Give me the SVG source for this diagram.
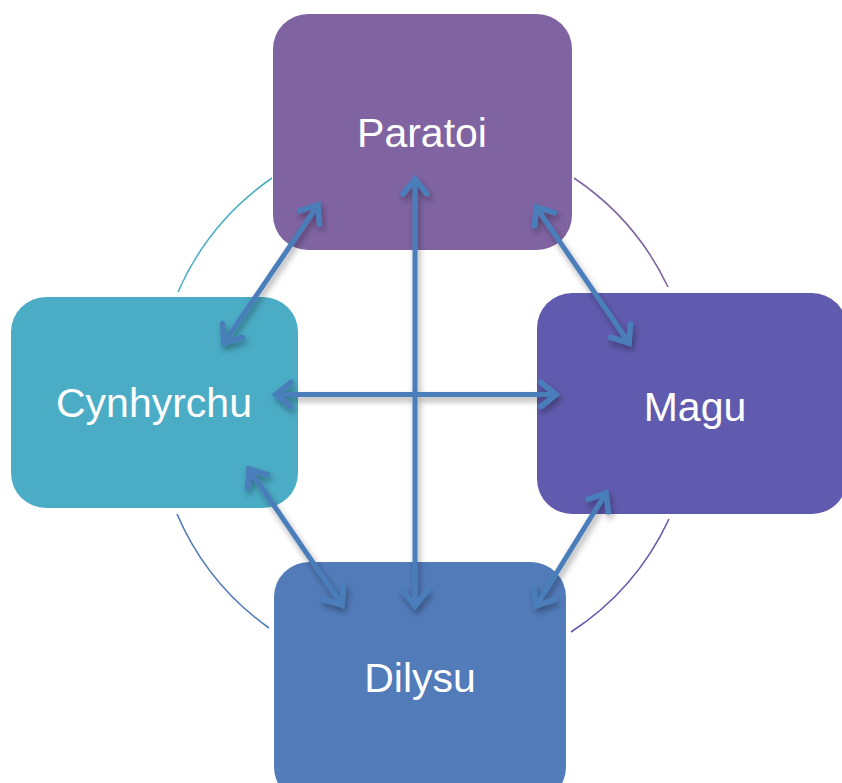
<svg xmlns="http://www.w3.org/2000/svg" width="842" height="783" viewBox="0 0 842 783">
<defs>
<style>
.lbl{font-family:"Liberation Sans",Arial,sans-serif;font-size:41px;fill:#fff;text-anchor:middle}
.arc{fill:none;stroke-width:1.6}
.con{fill:none;stroke:#4A7EBB;stroke-width:5}
</style>
<marker id="ah" markerUnits="userSpaceOnUse" viewBox="-24 -16 30 32" refX="0" refY="0" markerWidth="30" markerHeight="32" orient="auto-start-reverse">
<path d="M-15,-12 L0,0 L-15,12" fill="none" stroke="#4A7EBB" stroke-width="5.5" stroke-linecap="round" stroke-linejoin="miter"/>
</marker>
<filter id="sh" x="-20%" y="-20%" width="140%" height="140%">
<feDropShadow dx="2" dy="4" stdDeviation="3" flood-color="#000" flood-opacity="0.35"/>
</filter>
</defs>
<rect width="842" height="783" fill="#fff"/>
<g id="arcs">
<path class="arc" stroke="#4BACC6" d="M178,292 A271,271 0 0 1 272,178"/>
<path class="arc" stroke="#8064A2" d="M574,178 A271,271 0 0 1 668,287"/>
<path class="arc" stroke="#5F5AAE" d="M669,519 A271,271 0 0 1 571,632"/>
<path class="arc" stroke="#4F7BBA" d="M269,628 A271,271 0 0 1 177,514"/>
</g>
<g id="paratoi">
<rect x="273" y="14" width="299" height="236" rx="35" fill="#8064A2"/>
<text class="lbl" x="422" y="147">Paratoi</text>
</g>
<g id="cynhyrchu">
<rect x="11" y="297" width="287" height="211" rx="35" fill="#4BACC6"/>
<text class="lbl" x="154" y="417">Cynhyrchu</text>
</g>
<g id="magu">
<rect x="537" y="293" width="310" height="221" rx="35" fill="#605BAE"/>
<text class="lbl" x="695" y="421">Magu</text>
</g>
<g id="dilysu">
<rect x="274" y="562" width="292" height="240" rx="35" fill="#527BBA"/>
<text class="lbl" x="420" y="692">Dilysu</text>
</g>
<g id="connectors" filter="url(#sh)">
<line class="con" x1="318" y1="205" x2="224" y2="343" marker-start="url(#ah)" marker-end="url(#ah)"/>
<line class="con" x1="536" y1="207" x2="629" y2="343" marker-start="url(#ah)" marker-end="url(#ah)"/>
<line class="con" x1="249" y1="469" x2="342" y2="605" marker-start="url(#ah)" marker-end="url(#ah)"/>
<line class="con" x1="606" y1="493" x2="536" y2="606" marker-start="url(#ah)" marker-end="url(#ah)"/>
<line class="con" x1="415" y1="179" x2="415" y2="606" marker-start="url(#ah)" marker-end="url(#ah)"/>
<line class="con" x1="276" y1="394.5" x2="556" y2="394.5" marker-start="url(#ah)" marker-end="url(#ah)"/>
</g>
</svg>
